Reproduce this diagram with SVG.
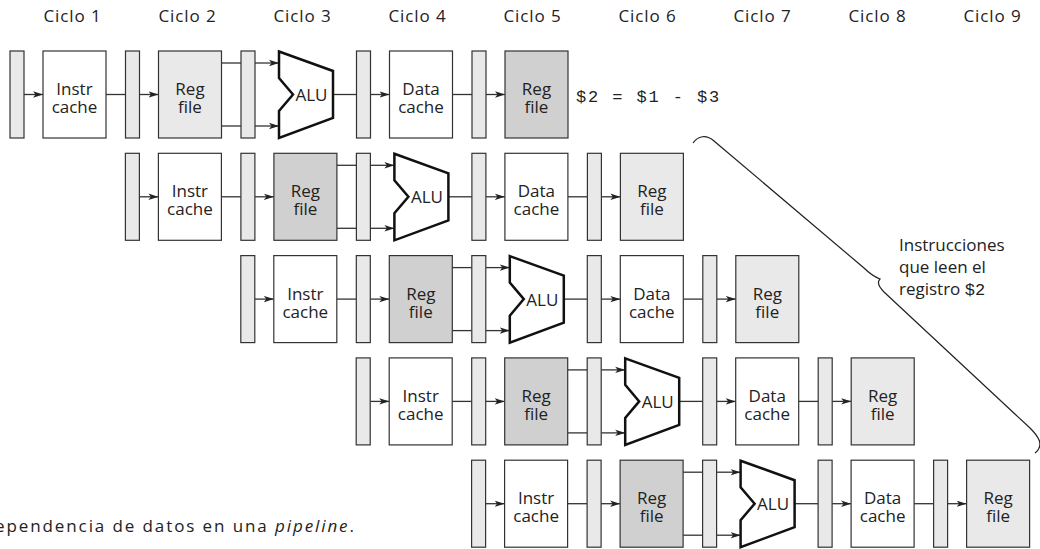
<svg xmlns="http://www.w3.org/2000/svg" width="1040" height="549" viewBox="0 0 1040 549">
<style>
.latch{fill:#e9e9e9;stroke:#333;stroke-width:1.2}
.box{fill:#fff;stroke:#333;stroke-width:1.2}
.rl{fill:#e9e9e9}
.rd{fill:#d0d0d0}
.alu{fill:#fff;stroke:#111;stroke-width:2.5;stroke-linejoin:miter}
.t{font-family:"Open Sans","DejaVu Sans",sans-serif;font-size:17px;fill:#222;text-anchor:middle}
.h{font-family:"Open Sans","DejaVu Sans",sans-serif;font-size:17px;fill:#222;text-anchor:middle;letter-spacing:0.9px}
.lbl{font-family:"Open Sans","DejaVu Sans",sans-serif;font-size:17px;fill:#222}
.mono{font-family:"Liberation Mono","DejaVu Sans Mono",monospace}
.cn line{stroke:#333;stroke-width:1.3;fill:none}
.cn .a{marker-end:url(#ah)}
.brace{fill:none;stroke:#222;stroke-width:1.2}
</style>
<defs>
<marker id="ah" viewBox="0 0 10 8" refX="10" refY="4" markerWidth="10" markerHeight="8" markerUnits="userSpaceOnUse" orient="auto"><path d="M0,0.8 L10,4 L0,7.2 L2.5,4 z" fill="#222"/></marker>
</defs>

<g id="headers">
<text class="h" x="72.5" y="21.5">Ciclo 1</text>
<text class="h" x="187.5" y="21.5">Ciclo 2</text>
<text class="h" x="302.5" y="21.5">Ciclo 3</text>
<text class="h" x="417.5" y="21.5">Ciclo 4</text>
<text class="h" x="532.5" y="21.5">Ciclo 5</text>
<text class="h" x="647.5" y="21.5">Ciclo 6</text>
<text class="h" x="762.5" y="21.5">Ciclo 7</text>
<text class="h" x="877.5" y="21.5">Ciclo 8</text>
<text class="h" x="992.5" y="21.5">Ciclo 9</text>
</g>

<g id="connectors" class="cn">
<g transform="translate(0,0)">
<line class="a" x1="24" y1="94.5" x2="43" y2="94.5"/><line x1="106" y1="94.5" x2="125.5" y2="94.5"/><line class="a" x1="139.5" y1="94.5" x2="158.5" y2="94.5"/>
<line x1="221.5" y1="63" x2="241" y2="63"/><line x1="221.5" y1="126" x2="241" y2="126"/><line class="a" x1="255" y1="63" x2="279" y2="63"/><line class="a" x1="255" y1="126" x2="279" y2="126"/>
<line x1="333" y1="94.5" x2="356.5" y2="94.5"/><line class="a" x1="370.5" y1="94.5" x2="389.5" y2="94.5"/><line x1="452.5" y1="94.5" x2="472" y2="94.5"/><line class="a" x1="486" y1="94.5" x2="505" y2="94.5"/>
</g>
<g transform="translate(115.4,102.3)">
<line class="a" x1="24" y1="94.5" x2="43" y2="94.5"/><line x1="106" y1="94.5" x2="125.5" y2="94.5"/><line class="a" x1="139.5" y1="94.5" x2="158.5" y2="94.5"/>
<line x1="221.5" y1="63" x2="241" y2="63"/><line x1="221.5" y1="126" x2="241" y2="126"/><line class="a" x1="255" y1="63" x2="279" y2="63"/><line class="a" x1="255" y1="126" x2="279" y2="126"/>
<line x1="333" y1="94.5" x2="356.5" y2="94.5"/><line class="a" x1="370.5" y1="94.5" x2="389.5" y2="94.5"/><line x1="452.5" y1="94.5" x2="472" y2="94.5"/><line class="a" x1="486" y1="94.5" x2="505" y2="94.5"/>
</g>
<g transform="translate(230.8,204.6)">
<line class="a" x1="24" y1="94.5" x2="43" y2="94.5"/><line x1="106" y1="94.5" x2="125.5" y2="94.5"/><line class="a" x1="139.5" y1="94.5" x2="158.5" y2="94.5"/>
<line x1="221.5" y1="63" x2="241" y2="63"/><line x1="221.5" y1="126" x2="241" y2="126"/><line class="a" x1="255" y1="63" x2="279" y2="63"/><line class="a" x1="255" y1="126" x2="279" y2="126"/>
<line x1="333" y1="94.5" x2="356.5" y2="94.5"/><line class="a" x1="370.5" y1="94.5" x2="389.5" y2="94.5"/><line x1="452.5" y1="94.5" x2="472" y2="94.5"/><line class="a" x1="486" y1="94.5" x2="505" y2="94.5"/>
</g>
<g transform="translate(346.2,306.9)">
<line class="a" x1="24" y1="94.5" x2="43" y2="94.5"/><line x1="106" y1="94.5" x2="125.5" y2="94.5"/><line class="a" x1="139.5" y1="94.5" x2="158.5" y2="94.5"/>
<line x1="221.5" y1="63" x2="241" y2="63"/><line x1="221.5" y1="126" x2="241" y2="126"/><line class="a" x1="255" y1="63" x2="279" y2="63"/><line class="a" x1="255" y1="126" x2="279" y2="126"/>
<line x1="333" y1="94.5" x2="356.5" y2="94.5"/><line class="a" x1="370.5" y1="94.5" x2="389.5" y2="94.5"/><line x1="452.5" y1="94.5" x2="472" y2="94.5"/><line class="a" x1="486" y1="94.5" x2="505" y2="94.5"/>
</g>
<g transform="translate(461.6,409.2)">
<line class="a" x1="24" y1="94.5" x2="43" y2="94.5"/><line x1="106" y1="94.5" x2="125.5" y2="94.5"/><line class="a" x1="139.5" y1="94.5" x2="158.5" y2="94.5"/>
<line x1="221.5" y1="63" x2="241" y2="63"/><line x1="221.5" y1="126" x2="241" y2="126"/><line class="a" x1="255" y1="63" x2="279" y2="63"/><line class="a" x1="255" y1="126" x2="279" y2="126"/>
<line x1="333" y1="94.5" x2="356.5" y2="94.5"/><line class="a" x1="370.5" y1="94.5" x2="389.5" y2="94.5"/><line x1="452.5" y1="94.5" x2="472" y2="94.5"/><line class="a" x1="486" y1="94.5" x2="505" y2="94.5"/>
</g>
</g>

<g id="row1" transform="translate(0,0)">
<g id="r1-latch1"><rect class="latch" x="10" y="51" width="14" height="87"/></g>
<g id="r1-instr"><rect class="box" x="43" y="51" width="63" height="87"/><text class="t" x="74.5" y="95">Instr<tspan x="74.5" dy="18">cache</tspan></text></g>
<g id="r1-latch2"><rect class="latch" x="125.5" y="51" width="14" height="87"/></g>
<g id="r1-regread"><rect class="box rl" x="158.5" y="51" width="63" height="87"/><text class="t" x="190" y="95">Reg<tspan x="190" dy="18">file</tspan></text></g>
<g id="r1-latch3"><rect class="latch" x="241" y="51" width="14" height="87"/></g>
<g id="r1-alu"><polygon class="alu" points="279,51.5 333,71 333,118 279,138 279,111 293,94.5 279,78"/><text class="t" x="311.5" y="101">ALU</text></g>
<g id="r1-latch4"><rect class="latch" x="356.5" y="51" width="14" height="87"/></g>
<g id="r1-data"><rect class="box" x="389.5" y="51" width="63" height="87"/><text class="t" x="421" y="95">Data<tspan x="421" dy="18">cache</tspan></text></g>
<g id="r1-latch5"><rect class="latch" x="472" y="51" width="14" height="87"/></g>
<g id="r1-regwrite"><rect class="box rd" x="505" y="51" width="63" height="87"/><text class="t" x="536.5" y="95">Reg<tspan x="536.5" dy="18">file</tspan></text></g>
</g>

<g id="row2" transform="translate(115.4,102.3)">
<g id="r2-latch1"><rect class="latch" x="10" y="51" width="14" height="87"/></g>
<g id="r2-instr"><rect class="box" x="43" y="51" width="63" height="87"/><text class="t" x="74.5" y="95">Instr<tspan x="74.5" dy="18">cache</tspan></text></g>
<g id="r2-latch2"><rect class="latch" x="125.5" y="51" width="14" height="87"/></g>
<g id="r2-regread"><rect class="box rd" x="158.5" y="51" width="63" height="87"/><text class="t" x="190" y="95">Reg<tspan x="190" dy="18">file</tspan></text></g>
<g id="r2-latch3"><rect class="latch" x="241" y="51" width="14" height="87"/></g>
<g id="r2-alu"><polygon class="alu" points="279,51.5 333,71 333,118 279,138 279,111 293,94.5 279,78"/><text class="t" x="311.5" y="101">ALU</text></g>
<g id="r2-latch4"><rect class="latch" x="356.5" y="51" width="14" height="87"/></g>
<g id="r2-data"><rect class="box" x="389.5" y="51" width="63" height="87"/><text class="t" x="421" y="95">Data<tspan x="421" dy="18">cache</tspan></text></g>
<g id="r2-latch5"><rect class="latch" x="472" y="51" width="14" height="87"/></g>
<g id="r2-regwrite"><rect class="box rl" x="505" y="51" width="63" height="87"/><text class="t" x="536.5" y="95">Reg<tspan x="536.5" dy="18">file</tspan></text></g>
</g>

<g id="row3" transform="translate(230.8,204.6)">
<g id="r3-latch1"><rect class="latch" x="10" y="51" width="14" height="87"/></g>
<g id="r3-instr"><rect class="box" x="43" y="51" width="63" height="87"/><text class="t" x="74.5" y="95">Instr<tspan x="74.5" dy="18">cache</tspan></text></g>
<g id="r3-latch2"><rect class="latch" x="125.5" y="51" width="14" height="87"/></g>
<g id="r3-regread"><rect class="box rd" x="158.5" y="51" width="63" height="87"/><text class="t" x="190" y="95">Reg<tspan x="190" dy="18">file</tspan></text></g>
<g id="r3-latch3"><rect class="latch" x="241" y="51" width="14" height="87"/></g>
<g id="r3-alu"><polygon class="alu" points="279,51.5 333,71 333,118 279,138 279,111 293,94.5 279,78"/><text class="t" x="311.5" y="101">ALU</text></g>
<g id="r3-latch4"><rect class="latch" x="356.5" y="51" width="14" height="87"/></g>
<g id="r3-data"><rect class="box" x="389.5" y="51" width="63" height="87"/><text class="t" x="421" y="95">Data<tspan x="421" dy="18">cache</tspan></text></g>
<g id="r3-latch5"><rect class="latch" x="472" y="51" width="14" height="87"/></g>
<g id="r3-regwrite"><rect class="box rl" x="505" y="51" width="63" height="87"/><text class="t" x="536.5" y="95">Reg<tspan x="536.5" dy="18">file</tspan></text></g>
</g>

<g id="row4" transform="translate(346.2,306.9)">
<g id="r4-latch1"><rect class="latch" x="10" y="51" width="14" height="87"/></g>
<g id="r4-instr"><rect class="box" x="43" y="51" width="63" height="87"/><text class="t" x="74.5" y="95">Instr<tspan x="74.5" dy="18">cache</tspan></text></g>
<g id="r4-latch2"><rect class="latch" x="125.5" y="51" width="14" height="87"/></g>
<g id="r4-regread"><rect class="box rd" x="158.5" y="51" width="63" height="87"/><text class="t" x="190" y="95">Reg<tspan x="190" dy="18">file</tspan></text></g>
<g id="r4-latch3"><rect class="latch" x="241" y="51" width="14" height="87"/></g>
<g id="r4-alu"><polygon class="alu" points="279,51.5 333,71 333,118 279,138 279,111 293,94.5 279,78"/><text class="t" x="311.5" y="101">ALU</text></g>
<g id="r4-latch4"><rect class="latch" x="356.5" y="51" width="14" height="87"/></g>
<g id="r4-data"><rect class="box" x="389.5" y="51" width="63" height="87"/><text class="t" x="421" y="95">Data<tspan x="421" dy="18">cache</tspan></text></g>
<g id="r4-latch5"><rect class="latch" x="472" y="51" width="14" height="87"/></g>
<g id="r4-regwrite"><rect class="box rl" x="505" y="51" width="63" height="87"/><text class="t" x="536.5" y="95">Reg<tspan x="536.5" dy="18">file</tspan></text></g>
</g>

<g id="row5" transform="translate(461.6,409.2)">
<g id="r5-latch1"><rect class="latch" x="10" y="51" width="14" height="87"/></g>
<g id="r5-instr"><rect class="box" x="43" y="51" width="63" height="87"/><text class="t" x="74.5" y="95">Instr<tspan x="74.5" dy="18">cache</tspan></text></g>
<g id="r5-latch2"><rect class="latch" x="125.5" y="51" width="14" height="87"/></g>
<g id="r5-regread"><rect class="box rd" x="158.5" y="51" width="63" height="87"/><text class="t" x="190" y="95">Reg<tspan x="190" dy="18">file</tspan></text></g>
<g id="r5-latch3"><rect class="latch" x="241" y="51" width="14" height="87"/></g>
<g id="r5-alu"><polygon class="alu" points="279,51.5 333,71 333,118 279,138 279,111 293,94.5 279,78"/><text class="t" x="311.5" y="101">ALU</text></g>
<g id="r5-latch4"><rect class="latch" x="356.5" y="51" width="14" height="87"/></g>
<g id="r5-data"><rect class="box" x="389.5" y="51" width="63" height="87"/><text class="t" x="421" y="95">Data<tspan x="421" dy="18">cache</tspan></text></g>
<g id="r5-latch5"><rect class="latch" x="472" y="51" width="14" height="87"/></g>
<g id="r5-regwrite"><rect class="box rl" x="505" y="51" width="63" height="87"/><text class="t" x="536.5" y="95">Reg<tspan x="536.5" dy="18">file</tspan></text></g>
</g>

<g id="instr-label">
<text class="mono" x="576" y="102" font-size="17" fill="#222" letter-spacing="1.9">$2 = $1 - $3</text>
</g>

<g id="brace-label">
<path class="brace" d="M693,143 C698,136 706,134 714,141 L864,268 C870,274 875,277 880,279 C877,282 878,286 884,292 L1030,428 C1038,436 1045,445 1035,453"/>
<text class="lbl" x="899" y="250.5">Instrucciones<tspan x="899" dy="22.5">que leen el</tspan><tspan x="899" dy="22">registro <tspan class="mono">$2</tspan></tspan></text>
</g>

<g id="caption">
<text class="lbl" x="-5" y="532" font-size="17.5" letter-spacing="1.9">ependencia de datos en una <tspan font-style="italic">pipeline</tspan>.</text>
</g>
</svg>
